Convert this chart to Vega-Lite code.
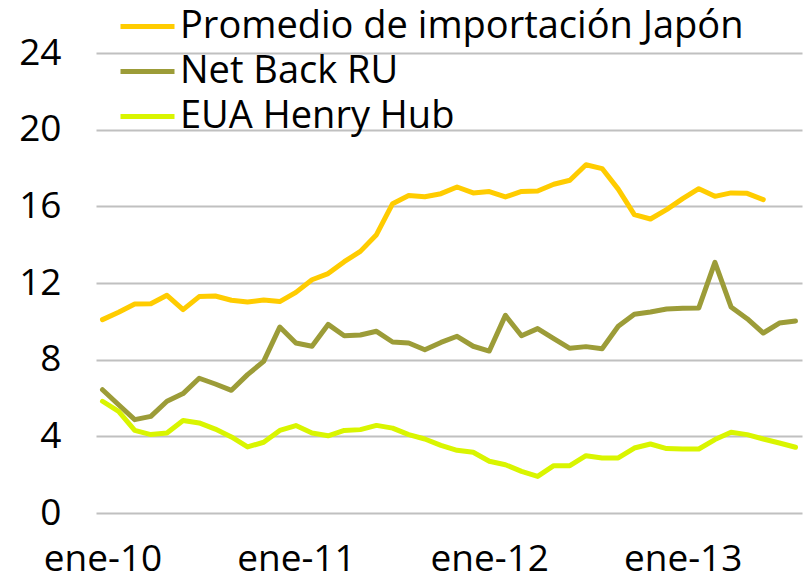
{
  "$schema": "https://vega.github.io/schema/vega-lite/v6.json",
  "autosize": "none",
  "width": 706,
  "height": 460,
  "padding": {"left": 96, "top": 53, "right": 4, "bottom": 64},
  "background": "white",
  "config": {
    "font": "Open Sans",
    "view": {"stroke": null}
  },
  "data": {
    "values": [
      {"mes":"ene-10","serie":"Promedio de importación Japón","valor":10.09},
      {"mes":"feb-10","serie":"Promedio de importación Japón","valor":10.47},
      {"mes":"mar-10","serie":"Promedio de importación Japón","valor":10.90},
      {"mes":"abr-10","serie":"Promedio de importación Japón","valor":10.92},
      {"mes":"may-10","serie":"Promedio de importación Japón","valor":11.36},
      {"mes":"jun-10","serie":"Promedio de importación Japón","valor":10.61},
      {"mes":"jul-10","serie":"Promedio de importación Japón","valor":11.29},
      {"mes":"ago-10","serie":"Promedio de importación Japón","valor":11.32},
      {"mes":"sep-10","serie":"Promedio de importación Japón","valor":11.10},
      {"mes":"oct-10","serie":"Promedio de importación Japón","valor":11.01},
      {"mes":"nov-10","serie":"Promedio de importación Japón","valor":11.11},
      {"mes":"dic-10","serie":"Promedio de importación Japón","valor":11.03},
      {"mes":"ene-11","serie":"Promedio de importación Japón","valor":11.51},
      {"mes":"feb-11","serie":"Promedio de importación Japón","valor":12.17},
      {"mes":"mar-11","serie":"Promedio de importación Japón","valor":12.49},
      {"mes":"abr-11","serie":"Promedio de importación Japón","valor":13.11},
      {"mes":"may-11","serie":"Promedio de importación Japón","valor":13.65},
      {"mes":"jun-11","serie":"Promedio de importación Japón","valor":14.52},
      {"mes":"jul-11","serie":"Promedio de importación Japón","valor":16.14},
      {"mes":"ago-11","serie":"Promedio de importación Japón","valor":16.56},
      {"mes":"sep-11","serie":"Promedio de importación Japón","valor":16.50},
      {"mes":"oct-11","serie":"Promedio de importación Japón","valor":16.66},
      {"mes":"nov-11","serie":"Promedio de importación Japón","valor":17.01},
      {"mes":"dic-11","serie":"Promedio de importación Japón","valor":16.70},
      {"mes":"ene-12","serie":"Promedio de importación Japón","valor":16.77},
      {"mes":"feb-12","serie":"Promedio de importación Japón","valor":16.49},
      {"mes":"mar-12","serie":"Promedio de importación Japón","valor":16.78},
      {"mes":"abr-12","serie":"Promedio de importación Japón","valor":16.80},
      {"mes":"may-12","serie":"Promedio de importación Japón","valor":17.15},
      {"mes":"jun-12","serie":"Promedio de importación Japón","valor":17.36},
      {"mes":"jul-12","serie":"Promedio de importación Japón","valor":18.17},
      {"mes":"ago-12","serie":"Promedio de importación Japón","valor":17.97},
      {"mes":"sep-12","serie":"Promedio de importación Japón","valor":16.90},
      {"mes":"oct-12","serie":"Promedio de importación Japón","valor":15.57},
      {"mes":"nov-12","serie":"Promedio de importación Japón","valor":15.34},
      {"mes":"dic-12","serie":"Promedio de importación Japón","valor":15.83},
      {"mes":"ene-13","serie":"Promedio de importación Japón","valor":16.40},
      {"mes":"feb-13","serie":"Promedio de importación Japón","valor":16.92},
      {"mes":"mar-13","serie":"Promedio de importación Japón","valor":16.52},
      {"mes":"abr-13","serie":"Promedio de importación Japón","valor":16.70},
      {"mes":"may-13","serie":"Promedio de importación Japón","valor":16.68},
      {"mes":"jun-13","serie":"Promedio de importación Japón","valor":16.35},

      {"mes":"ene-10","serie":"Net Back RU","valor":6.43},
      {"mes":"feb-10","serie":"Net Back RU","valor":5.65},
      {"mes":"mar-10","serie":"Net Back RU","valor":4.87},
      {"mes":"abr-10","serie":"Net Back RU","valor":5.04},
      {"mes":"may-10","serie":"Net Back RU","valor":5.83},
      {"mes":"jun-10","serie":"Net Back RU","valor":6.23},
      {"mes":"jul-10","serie":"Net Back RU","valor":7.03},
      {"mes":"ago-10","serie":"Net Back RU","valor":6.73},
      {"mes":"sep-10","serie":"Net Back RU","valor":6.40},
      {"mes":"oct-10","serie":"Net Back RU","valor":7.22},
      {"mes":"nov-10","serie":"Net Back RU","valor":7.91},
      {"mes":"dic-10","serie":"Net Back RU","valor":9.70},
      {"mes":"ene-11","serie":"Net Back RU","valor":8.87},
      {"mes":"feb-11","serie":"Net Back RU","valor":8.70},
      {"mes":"mar-11","serie":"Net Back RU","valor":9.84},
      {"mes":"abr-11","serie":"Net Back RU","valor":9.25},
      {"mes":"may-11","serie":"Net Back RU","valor":9.29},
      {"mes":"jun-11","serie":"Net Back RU","valor":9.48},
      {"mes":"jul-11","serie":"Net Back RU","valor":8.92},
      {"mes":"ago-11","serie":"Net Back RU","valor":8.87},
      {"mes":"sep-11","serie":"Net Back RU","valor":8.52},
      {"mes":"oct-11","serie":"Net Back RU","valor":8.90},
      {"mes":"nov-11","serie":"Net Back RU","valor":9.22},
      {"mes":"dic-11","serie":"Net Back RU","valor":8.70},
      {"mes":"ene-12","serie":"Net Back RU","valor":8.45},
      {"mes":"feb-12","serie":"Net Back RU","valor":10.31},
      {"mes":"mar-12","serie":"Net Back RU","valor":9.25},
      {"mes":"abr-12","serie":"Net Back RU","valor":9.62},
      {"mes":"may-12","serie":"Net Back RU","valor":9.10},
      {"mes":"jun-12","serie":"Net Back RU","valor":8.59},
      {"mes":"jul-12","serie":"Net Back RU","valor":8.68},
      {"mes":"ago-12","serie":"Net Back RU","valor":8.57},
      {"mes":"sep-12","serie":"Net Back RU","valor":9.74},
      {"mes":"oct-12","serie":"Net Back RU","valor":10.37},
      {"mes":"nov-12","serie":"Net Back RU","valor":10.49},
      {"mes":"dic-12","serie":"Net Back RU","valor":10.64},
      {"mes":"ene-13","serie":"Net Back RU","valor":10.68},
      {"mes":"feb-13","serie":"Net Back RU","valor":10.70},
      {"mes":"mar-13","serie":"Net Back RU","valor":13.08},
      {"mes":"abr-13","serie":"Net Back RU","valor":10.75},
      {"mes":"may-13","serie":"Net Back RU","valor":10.14},
      {"mes":"jun-13","serie":"Net Back RU","valor":9.39},
      {"mes":"jul-13","serie":"Net Back RU","valor":9.91},
      {"mes":"ago-13","serie":"Net Back RU","valor":10.02},

      {"mes":"ene-10","serie":"EUA Henry Hub","valor":5.83},
      {"mes":"feb-10","serie":"EUA Henry Hub","valor":5.30},
      {"mes":"mar-10","serie":"EUA Henry Hub","valor":4.31},
      {"mes":"abr-10","serie":"EUA Henry Hub","valor":4.09},
      {"mes":"may-10","serie":"EUA Henry Hub","valor":4.17},
      {"mes":"jun-10","serie":"EUA Henry Hub","valor":4.83},
      {"mes":"jul-10","serie":"EUA Henry Hub","valor":4.70},
      {"mes":"ago-10","serie":"EUA Henry Hub","valor":4.38},
      {"mes":"sep-10","serie":"EUA Henry Hub","valor":3.97},
      {"mes":"oct-10","serie":"EUA Henry Hub","valor":3.45},
      {"mes":"nov-10","serie":"EUA Henry Hub","valor":3.69},
      {"mes":"dic-10","serie":"EUA Henry Hub","valor":4.31},
      {"mes":"ene-11","serie":"EUA Henry Hub","valor":4.56},
      {"mes":"feb-11","serie":"EUA Henry Hub","valor":4.17},
      {"mes":"mar-11","serie":"EUA Henry Hub","valor":4.03},
      {"mes":"abr-11","serie":"EUA Henry Hub","valor":4.31},
      {"mes":"may-11","serie":"EUA Henry Hub","valor":4.35},
      {"mes":"jun-11","serie":"EUA Henry Hub","valor":4.57},
      {"mes":"jul-11","serie":"EUA Henry Hub","valor":4.43},
      {"mes":"ago-11","serie":"EUA Henry Hub","valor":4.09},
      {"mes":"sep-11","serie":"EUA Henry Hub","valor":3.86},
      {"mes":"oct-11","serie":"EUA Henry Hub","valor":3.53},
      {"mes":"nov-11","serie":"EUA Henry Hub","valor":3.27},
      {"mes":"dic-11","serie":"EUA Henry Hub","valor":3.17},
      {"mes":"ene-12","serie":"EUA Henry Hub","valor":2.70},
      {"mes":"feb-12","serie":"EUA Henry Hub","valor":2.52},
      {"mes":"mar-12","serie":"EUA Henry Hub","valor":2.17},
      {"mes":"abr-12","serie":"EUA Henry Hub","valor":1.91},
      {"mes":"may-12","serie":"EUA Henry Hub","valor":2.47},
      {"mes":"jun-12","serie":"EUA Henry Hub","valor":2.47},
      {"mes":"jul-12","serie":"EUA Henry Hub","valor":2.99},
      {"mes":"ago-12","serie":"EUA Henry Hub","valor":2.87},
      {"mes":"sep-12","serie":"EUA Henry Hub","valor":2.87},
      {"mes":"oct-12","serie":"EUA Henry Hub","valor":3.39},
      {"mes":"nov-12","serie":"EUA Henry Hub","valor":3.60},
      {"mes":"dic-12","serie":"EUA Henry Hub","valor":3.36},
      {"mes":"ene-13","serie":"EUA Henry Hub","valor":3.34},
      {"mes":"feb-13","serie":"EUA Henry Hub","valor":3.34},
      {"mes":"mar-13","serie":"EUA Henry Hub","valor":3.83},
      {"mes":"abr-13","serie":"EUA Henry Hub","valor":4.21},
      {"mes":"may-13","serie":"EUA Henry Hub","valor":4.09},
      {"mes":"jun-13","serie":"EUA Henry Hub","valor":3.86},
      {"mes":"jul-13","serie":"EUA Henry Hub","valor":3.65},
      {"mes":"ago-13","serie":"EUA Henry Hub","valor":3.43}
    ]
  },
  "mark": {"type": "line", "strokeWidth": 5, "strokeCap": "round", "strokeJoin": "round"},
  "encoding": {
    "x": {
      "field": "mes",
      "type": "ordinal",
      "sort": null,
      "scale": {"type": "point", "padding": 0.403},
      "axis": {
        "title": null,
        "values": ["ene-10", "ene-11", "ene-12", "ene-13"],
        "labelAngle": 0,
        "labelFont": "Open Sans",
        "labelFontSize": 37,
        "labelColor": "black",
        "labelPadding": 28,
        "labelBaseline": "top",
        "ticks": false,
        "domain": false,
        "grid": false
      }
    },
    "y": {
      "field": "valor",
      "type": "quantitative",
      "scale": {"domain": [0, 24], "nice": false, "zero": true},
      "axis": {
        "title": null,
        "values": [0, 4, 8, 12, 16, 20, 24],
        "labelFont": "Open Sans",
        "labelFontSize": 37,
        "labelColor": "black",
        "labelPadding": 35,
        "ticks": false,
        "domain": false,
        "grid": true,
        "gridColor": "#C0C0C0",
        "gridWidth": 2
      }
    },
    "color": {
      "field": "serie",
      "type": "nominal",
      "scale": {
        "domain": ["Promedio de importación Japón", "Net Back RU", "EUA Henry Hub"],
        "range": ["#FFCC00", "#9C9C38", "#D9F500"]
      },
      "legend": {
        "title": null,
        "orient": "none",
        "legendX": 22,
        "legendY": -49,
        "padding": 0,
        "symbolType": "stroke",
        "symbolSize": 2916,
        "symbolStrokeWidth": 5,
        "labelFont": "Open Sans",
        "labelFontSize": 38,
        "labelColor": "black",
        "labelOffset": 3,
        "rowPadding": 0,
        "clipHeight": 45,
        "labelLimit": 800
      }
    }
  }
}
